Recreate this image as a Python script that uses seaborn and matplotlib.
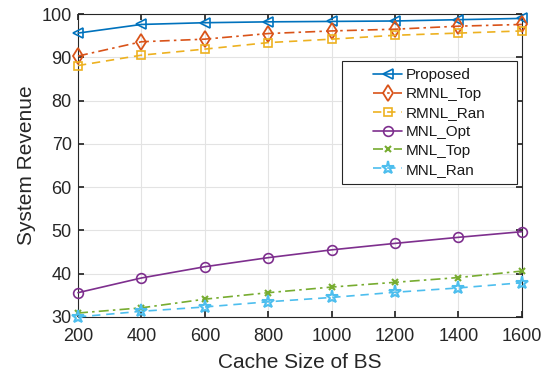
import matplotlib
matplotlib.use("Agg")
import matplotlib.pyplot as plt
from matplotlib.patches import Rectangle
import seaborn as sns
import pandas as pd

cache_size = [200, 400, 600, 800, 1000, 1200, 1400, 1600]
proposed = [95.6, 97.6, 98.0, 98.2, 98.3, 98.4, 98.7, 99.0]
rmnl_top = [90.3, 93.6, 94.2, 95.5, 96.1, 96.5, 97.2, 97.6]
rmnl_ran = [88.1, 90.5, 91.9, 93.4, 94.2, 95.1, 95.6, 96.1]
mnl_opt = [35.6, 39.0, 41.6, 43.7, 45.5, 47.0, 48.4, 49.7]
mnl_top = [30.9, 32.1, 34.1, 35.6, 36.9, 38.0, 39.1, 40.6]
mnl_ran = [30.0, 31.3, 32.3, 33.5, 34.5, 35.7, 36.7, 37.9]
names = ["Proposed", "RMNL_Top", "RMNL_Ran", "MNL_Opt", "MNL_Top", "MNL_Ran"]
series = [proposed, rmnl_top, rmnl_ran, mnl_opt, mnl_top, mnl_ran]

sns.set_theme(style="whitegrid")
plt.rcParams['font.family'] = ['Liberation Sans', 'DejaVu Sans']

colors = ["#0072BD", "#D95319", "#EDB120", "#7E2F8E", "#77AC30", "#4DBEEE"]
markers = ["<", "d", "s", "o", "x", "*"]
msizes = [7.5, 8.5, 6, 7, 5, 9.5]
mews = [1.2, 1.3, 1.2, 1.2, 1.5, 1.5]
dashes = ["-", (0, (6, 2.5, 1.5, 2.5)), (0, (5, 3.5)), "-", (0, (6, 2.5, 1.5, 2.5)), (0, (5, 3.5))]

fig = plt.figure(figsize=(5.57, 3.80), dpi=100)
ax = fig.add_axes([0.140, 0.166, 0.797, 0.797])

for name, vals, c, m, ms, mew, ls in zip(names, series, colors, markers, msizes, mews, dashes):
    df = pd.DataFrame({"x": cache_size, "y": vals})
    sns.lineplot(data=df, x="x", y="y", ax=ax, color=c, marker=m, markersize=ms,
                 markerfacecolor="none", markeredgecolor=c, markeredgewidth=mew,
                 linewidth=1.2, linestyle=ls, label=name, clip_on=False, zorder=3)

ax.set_xlim(200, 1600)
ax.set_ylim(30, 100)
ax.set_xticks(cache_size)
ax.set_yticks(range(30, 101, 10))
ax.set_xlabel("Cache Size of BS", fontsize=15, labelpad=6)
ax.set_ylabel("System Revenue", fontsize=15, labelpad=4)
ax.tick_params(axis="both", labelsize=13, direction="in", length=4, color="#262626",
               labelcolor="#262626", top=True, right=True, bottom=True, left=True)
ax.tick_params(axis="x", pad=8)
ax.tick_params(axis="y", pad=4.5)
ax.grid(True, color="#E3E3E3", linewidth=0.8)
for sp in ax.spines.values():
    sp.set_color("#262626")
    sp.set_linewidth(0.8)
ax.set_facecolor("white")
ax.xaxis.label.set_color("#262626")
ax.yaxis.label.set_color("#262626")

# legend box (MATLAB-style wide frame)
x0, x1 = 0.595, 0.989
y0, y1 = 0.439, 0.845
rect = Rectangle((x0, y0), x1 - x0, y1 - y0, transform=ax.transAxes,
                 facecolor="white", edgecolor="#262626", linewidth=0.8, zorder=5)
ax.add_patch(rect)
leg = ax.legend(loc="center", bbox_to_anchor=((x0 + x1) / 2, (y0 + y1) / 2), fontsize=11,
                frameon=False, handlelength=1.9, handletextpad=0.25, borderpad=0.2,
                labelspacing=0.32, borderaxespad=0)
leg.set_zorder(6)
for t in leg.get_texts():
    t.set_color("#1a1a1a")

fig.savefig("out.png", dpi=100)
